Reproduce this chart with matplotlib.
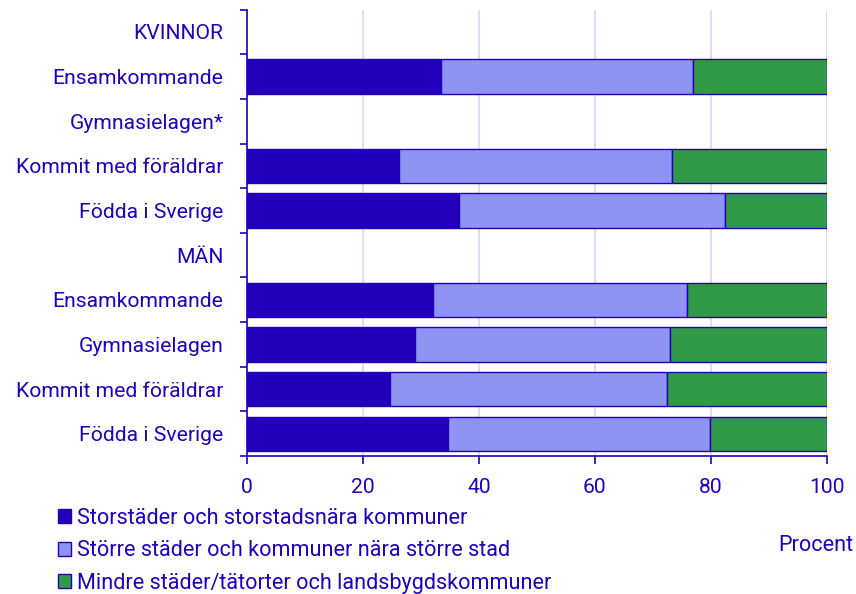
import matplotlib
matplotlib.use("Agg")
import matplotlib.pyplot as plt
from matplotlib.patches import Patch
import numpy as np

plt.rcParams['font.family'] = ['Roboto', 'DejaVu Sans']

categories = ["KVINNOR", "Ensamkommande", "Gymnasielagen*", "Kommit med föräldrar", "Födda i Sverige",
              "MÄN", "Ensamkommande", "Gymnasielagen", "Kommit med föräldrar", "Födda i Sverige"]
storstader = [np.nan, 33.4, np.nan, 26.2, 36.5, np.nan, 32.1, 29.0, 24.6, 34.7]
storre = [np.nan, 43.5, np.nan, 47.1, 46.0, np.nan, 43.8, 44.0, 47.8, 45.2]
mindre = [np.nan, 23.1, np.nan, 26.7, 17.5, np.nan, 24.1, 27.0, 27.6, 20.1]
series_names = ["Storstäder och storstadsnära kommuner",
                "Större städer och kommuner nära större stad",
                "Mindre städer/tätorter och landsbygdskommuner"]
xticks = [0, 20, 40, 60, 80, 100]

TXT = "#2200BB"
colors = ["#2200BB", "#8F94F2", "#319A46"]
FS = 15.2
LFS = 15.6

fig = plt.figure(figsize=(8.56, 5.94), dpi=100)
ax = fig.add_axes([0.2886, 0.2323, 0.966 - 0.2886, 0.9837 - 0.2323])

y = np.arange(len(categories))
left = np.zeros(len(categories))
for vals, col, name in zip([storstader, storre, mindre], colors, series_names):
    v = np.array(vals, dtype=float)
    m = ~np.isnan(v)
    ax.barh(y[m], v[m], left=left[m], height=0.77, color=col,
            edgecolor=TXT, linewidth=1.0, label=name, zorder=3)
    left = left + np.nan_to_num(v)

ax.set_xlim(0, 100)
ax.set_ylim(len(categories) - 0.5, -0.5)
ax.set_xticks(xticks)
ax.set_xticklabels([str(t) for t in xticks], fontsize=FS, color=TXT)
ax.set_yticks(y)
ax.set_yticklabels(categories, fontsize=FS, color=TXT)
ax.set_yticks(np.arange(-0.5, len(categories), 1.0), minor=True)
ax.tick_params(axis='y', which='major', length=0, pad=17)
ax.tick_params(axis='y', which='minor', length=5, color=TXT, width=1.2)
ax.tick_params(axis='x', which='major', length=5.5, color=TXT, width=1.2, pad=10)
ax.grid(axis='x', color="#D8D8F0", linewidth=1.2, zorder=0)
for s in ['top', 'right']:
    ax.spines[s].set_visible(False)
for s in ['left', 'bottom']:
    ax.spines[s].set_color(TXT)
    ax.spines[s].set_linewidth(1.2)

handles = [Patch(facecolor=c, edgecolor=TXT, linewidth=1.0) for c in colors]
fig.legend(handles, series_names, loc='upper left', bbox_to_anchor=(0.068, 0.145),
           frameon=False, fontsize=LFS, labelcolor=TXT, handlelength=0.6, handleheight=0.6,
           handletextpad=0.27, labelspacing=0.53, borderaxespad=0, borderpad=0)

fig.text(0.997, 0.082, "Procent", ha='right', va='center', fontsize=LFS, color=TXT)

fig.savefig("out.png", dpi=100)
